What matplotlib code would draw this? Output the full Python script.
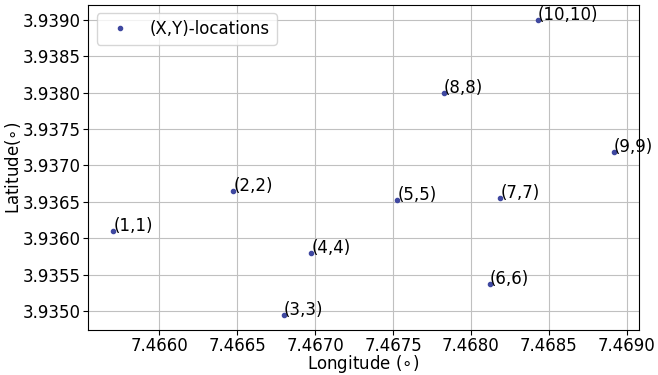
import matplotlib.pyplot as plt

# Point coordinates
lon = [7.465705, 7.466476, 7.466801, 7.466976, 7.467528,
       7.468120, 7.468188, 7.467825, 7.468917, 7.468430]
lat = [3.936100, 3.936650, 3.934945, 3.935804, 3.936523,
       3.935373, 3.936555, 3.938000, 3.937187, 3.939000]
labels = ['(1,1)', '(2,2)', '(3,3)', '(4,4)', '(5,5)',
          '(6,6)', '(7,7)', '(8,8)', '(9,9)', '(10,10)']

fig, ax = plt.subplots(figsize=(6.58, 3.75), dpi=100)
ax.plot(lon, lat, '.', color='#3f48a0', markersize=6, label='(X,Y)-locations')

for x, y, s in zip(lon, lat, labels):
    ax.annotate(s, (x, y), fontsize=12)

ax.set_xlabel(r'Longitude ($\circ$)', fontsize=12)
ax.set_ylabel(r'Latitude($\circ$)', fontsize=12, labelpad=0)
ax.xaxis.set_label_coords(0.5, -0.071)
ax.tick_params(labelsize=12, pad=2)
ax.tick_params(axis='x', pad=1.5)
ax.xaxis.set_major_formatter(plt.FormatStrFormatter('%.4f'))
ax.yaxis.set_major_formatter(plt.FormatStrFormatter('%.4f'))
ax.grid(True, color='#c0c0c0')
ax.set_axisbelow(True)
ax.legend(loc='upper left', fontsize=12)

plt.subplots_adjust(left=0.134, right=0.971, top=0.987, bottom=0.12)
plt.savefig('out.png')
